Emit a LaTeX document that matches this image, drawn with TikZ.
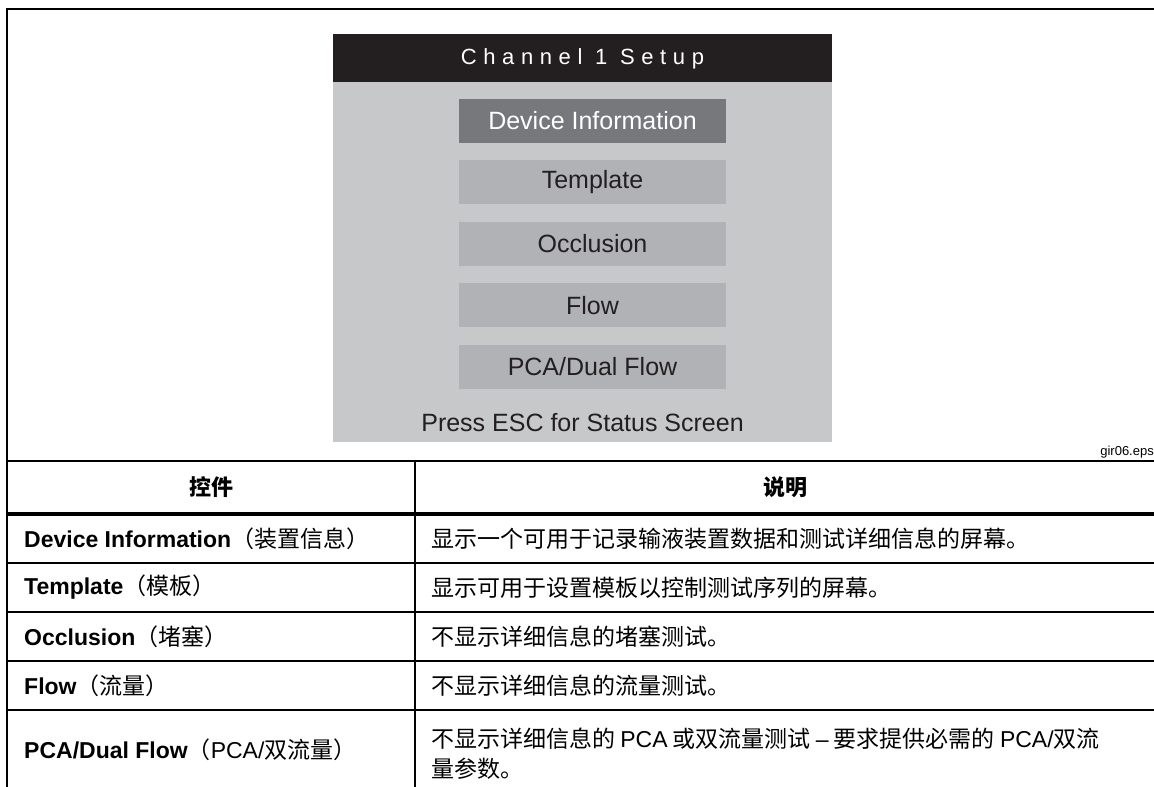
\documentclass[tikz,border=0pt]{standalone}
\usepackage{fontspec}
\setmainfont{Liberation Sans}
\newfontfamily\cjk{Noto Sans CJK SC}
\usepackage{xcolor}
\usetikzlibrary{positioning}
\definecolor{screenblack}{RGB}{35,31,32}
\definecolor{panelgray}{RGB}{199,200,202}
\definecolor{selgray}{RGB}{119,120,123}
\definecolor{btngray}{RGB}{177,178,181}

\begin{document}
\begin{tikzpicture}[x=1pt, y=-1pt,
    btn/.style={fill=btngray, minimum width=267pt, minimum height=44pt, inner sep=0pt,
      text=screenblack, font=\fontsize{25}{30}\selectfont},
    cell/.style={anchor=west, inner sep=0pt, font=\fontsize{23}{28}\selectfont},
    desc/.style={anchor=west, inner sep=0pt, align=left, font=\cjk\fontsize{23}{30}\selectfont},
    rule/.style={line width=2pt}]
  \useasboundingbox (0,0) rectangle (1154,787);

  % outer frame
  \draw[rule] (7,787) -- (7,9) -- (1154,9);

  % the screen
  \fill[panelgray] (333,82) rectangle (832,442);
  \fill[screenblack] (333,34) rectangle (832,82);
  \node[text=white, inner sep=0pt, font=\fontsize{22}{26}\selectfont\addfontfeature{LetterSpace=30}] (title) at (582.5,59) {Channel 1 Setup};

  \node[btn, fill=selgray, text=white] (devinfo) at (592.5,121) {Device Information};
  \node[btn, below=17pt of devinfo] (template) {Template};
  \node[btn, below=17pt of template] (occlusion) {Occlusion};
  \node[btn, below=17pt of occlusion] (flow) {Flow};
  \node[btn, below=17pt of flow] (pca) {PCA/Dual Flow};
  \node[inner sep=0pt, text=screenblack, font=\fontsize{25}{30}\selectfont] (esc) at (582.5,423) {Press ESC for Status Screen};

  \node[anchor=south east, inner sep=0pt, font=\fontsize{13}{15}\selectfont] (fig) at (1154,458) {gir06.eps};

  % the table
  \draw[rule] (7,461) -- (1154,461);
  \draw[line width=3.5pt] (7,514) -- (1154,514);
  \draw[rule] (7,563) -- (1154,563);
  \draw[rule] (7,612) -- (1154,612);
  \draw[rule] (7,661) -- (1154,661);
  \draw[rule] (7,710) -- (1154,710);
  \draw[rule] (415,461) -- (415,787);

  \node[font=\cjk\bfseries\fontsize{22}{26}\selectfont, inner sep=0pt] (hcontrol) at (211,487.5) {控件};
  \node[font=\cjk\bfseries\fontsize{22}{26}\selectfont, inner sep=0pt] (hdesc) at (785,487.5) {说明};

  \node[cell] (cdev) at (24,538.5) {\bfseries Device Information{\cjk\mdseries（装置信息）}};
  \node[cell] (ctemp) at (24,587.5) {\bfseries Template{\cjk\mdseries（模板）}};
  \node[cell] (cocc) at (24,636.5) {\bfseries Occlusion{\cjk\mdseries（堵塞）}};
  \node[cell] (cflow) at (24,685.5) {\bfseries Flow{\cjk\mdseries（流量）}};
  \node[cell] (cpca) at (24,750) {\bfseries PCA/Dual Flow{\mdseries\cjk（}{\mdseries PCA/}{\cjk\mdseries 双流量）}};

  \node[desc] (ddev) at (431,538.5) {显示一个可用于记录输液装置数据和测试详细信息的屏幕。};
  \node[desc] (dtemp) at (431,587.5) {显示可用于设置模板以控制测试序列的屏幕。};
  \node[desc] (docc) at (431,636.5) {不显示详细信息的堵塞测试。};
  \node[desc] (dflow) at (431,685.5) {不显示详细信息的流量测试。};
  \node[desc] (dpca) at (431,753.5) {不显示详细信息的 {\normalfont PCA} 或双流量测试 {\normalfont –} 要求提供必需的 {\normalfont PCA/}双流\\量参数。};
\end{tikzpicture}
\end{document}
